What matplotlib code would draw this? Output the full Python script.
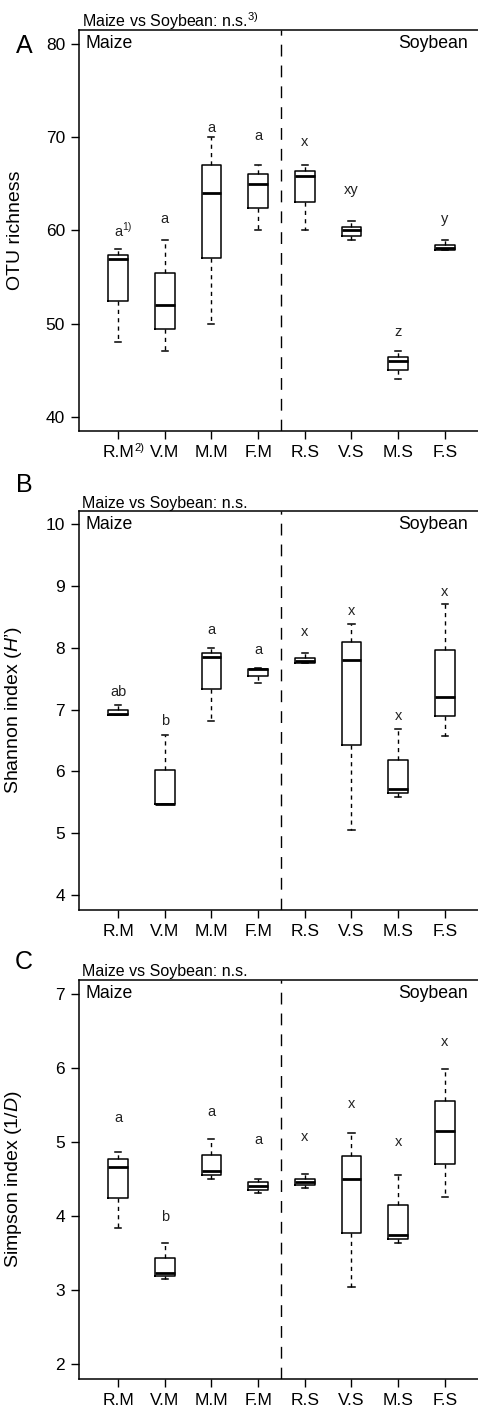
import matplotlib
matplotlib.use('Agg')
import matplotlib.pyplot as plt

plt.rcParams['font.family'] = 'Liberation Sans'
plt.rcParams['mathtext.fontset'] = 'custom'
plt.rcParams['mathtext.rm'] = 'Liberation Sans'
plt.rcParams['mathtext.it'] = 'Liberation Sans:italic'

groups = ['R.M', 'V.M', 'M.M', 'F.M', 'R.S', 'V.S', 'M.S', 'F.S']

# A - OTU richness (whisker low, Q1, median, Q3, whisker high)
otu_lo = [48, 47, 50, 60, 60, 59, 44, 57.9]
otu_q1 = [52.4, 49.4, 57, 62.4, 63, 59.4, 45, 57.9]
otu_med = [56.9, 52, 64, 65, 65.8, 60, 46, 58.1]
otu_q3 = [57.4, 55.4, 67, 66, 66.4, 60.4, 46.4, 58.4]
otu_hi = [58, 59, 70, 67, 67, 61, 47, 59]
otu_letters = ['a', 'a', 'a', 'a', 'x', 'xy', 'z', 'y']
otu_letter_y = [59.8, 61.2, 71.0, 70.1, 69.5, 64.3, 49.1, 61.2]

# B - Shannon index
sh_lo = [6.92, 5.47, 6.82, 7.43, 7.76, 5.06, 5.58, 6.58]
sh_q1 = [6.92, 5.48, 7.33, 7.54, 7.76, 6.43, 5.65, 6.89]
sh_med = [6.93, 5.48, 7.85, 7.65, 7.78, 7.80, 5.72, 7.20]
sh_q3 = [7.00, 6.03, 7.92, 7.66, 7.84, 8.09, 6.19, 7.96]
sh_hi = [7.08, 6.59, 7.99, 7.67, 7.91, 8.38, 6.68, 8.70]
sh_letters = ['ab', 'b', 'a', 'a', 'x', 'x', 'x', 'x']
sh_letter_y = [7.29, 6.81, 8.28, 7.97, 8.25, 8.60, 6.90, 8.90]

# C - Simpson index
si_lo = [3.84, 3.14, 4.50, 4.31, 4.38, 3.03, 3.63, 4.25]
si_q1 = [4.24, 3.18, 4.55, 4.35, 4.41, 3.77, 3.69, 4.70]
si_med = [4.66, 3.22, 4.61, 4.40, 4.45, 4.50, 3.74, 5.14]
si_q3 = [4.76, 3.43, 4.82, 4.45, 4.50, 4.81, 4.15, 5.55]
si_hi = [4.86, 3.63, 5.03, 4.50, 4.56, 5.12, 4.55, 5.98]
si_letters = ['a', 'b', 'a', 'a', 'x', 'x', 'x', 'x']
si_letter_y = [5.32, 3.98, 5.40, 5.02, 5.06, 5.51, 4.99, 6.35]


def draw_panel(ax, lo, q1, med, q3, hi, letters, letter_y, yticks, ylim,
               ylabel, top_text):
    stats = []
    for i in range(len(groups)):
        stats.append({'whislo': lo[i], 'q1': q1[i], 'med': med[i],
                      'q3': q3[i], 'whishi': hi[i], 'fliers': []})
    pos = list(range(1, len(groups) + 1))
    ax.bxp(stats, positions=pos, widths=0.42, capwidths=0.13, showfliers=False,
           boxprops=dict(color='black', linewidth=1.1),
           medianprops=dict(color='black', linewidth=2.0),
           whiskerprops=dict(color='black', linewidth=1.0, linestyle=(0, (3, 3))),
           capprops=dict(color='black', linewidth=1.1))
    for p, lab, y in zip(pos, letters, letter_y):
        ax.text(p, y, lab, ha='center', va='center', fontsize=10.5, color='#222222')
    ax.axvline(4.5, color='black', linewidth=1.0, linestyle=(0, (8.5, 6.5)))
    ax.set_xlim(0.165, 8.835)
    ax.set_ylim(*ylim)
    ax.set_yticks(yticks)
    ax.set_xticks(pos)
    ax.set_xticklabels(groups)
    ax.tick_params(direction='out', length=6, width=1, labelsize=12.5, pad=4)
    for s in ax.spines.values():
        s.set_linewidth(1.1)
    ax.set_ylabel(ylabel, fontsize=14)
    ax.yaxis.set_label_coords(-0.136, 0.5)
    ax.text(0.017, 0.966, 'Maize', transform=ax.transAxes, ha='left', va='center', fontsize=12.7)
    ax.text(0.9605, 0.966, 'Soybean', transform=ax.transAxes, ha='right', va='center', fontsize=12.7)
    ax.annotate(top_text, xy=(0.007, 1.0), xycoords='axes fraction',
                xytext=(0, 2.5), textcoords='offset points', ha='left', va='baseline',
                fontsize=11.5)


fig = plt.figure(figsize=(4.78, 14.1), dpi=100)

axA = fig.add_axes([0.1653, 0.6943, 0.847, 0.2844])
draw_panel(axA, otu_lo, otu_q1, otu_med, otu_q3, otu_hi, otu_letters, otu_letter_y,
           [40, 50, 60, 70, 80], (38.46, 81.5), 'OTU richness',
           'Maize vs Soybean: n.s.$^{3)}$')
# footnote marks
axA.annotate('1)', xy=(1, otu_letter_y[0]), xycoords='data', xytext=(3, 0),
             textcoords='offset points', ha='left', va='bottom', fontsize=7.5,
             color='#222222')
axA.annotate('2)', xy=(1, 0), xycoords=axA.get_xaxis_transform(), xytext=(12, -8.5),
             textcoords='offset points', ha='left', va='top', fontsize=8)

axB = fig.add_axes([0.1653, 0.3546, 0.847, 0.283])
draw_panel(axB, sh_lo, sh_q1, sh_med, sh_q3, sh_hi, sh_letters, sh_letter_y,
           [4, 5, 6, 7, 8, 9, 10], (3.76, 10.21), 'Shannon index ($\\mathit{H}$\u2019)',
           'Maize vs Soybean: n.s.')

axC = fig.add_axes([0.1653, 0.0218, 0.847, 0.2832])
draw_panel(axC, si_lo, si_q1, si_med, si_q3, si_hi, si_letters, si_letter_y,
           [2, 3, 4, 5, 6, 7], (1.79, 7.185), 'Simpson index ($\\mathit{1/D}$)',
           'Maize vs Soybean: n.s.')

fig.text(24 / 478, 1 - 46 / 1410, 'A', ha='center', va='center', fontsize=18)
fig.text(24 / 478, 1 - 485 / 1410, 'B', ha='center', va='center', fontsize=18)
fig.text(24 / 478, 1 - 962 / 1410, 'C', ha='center', va='center', fontsize=18)

fig.savefig('out.png', dpi=100)
